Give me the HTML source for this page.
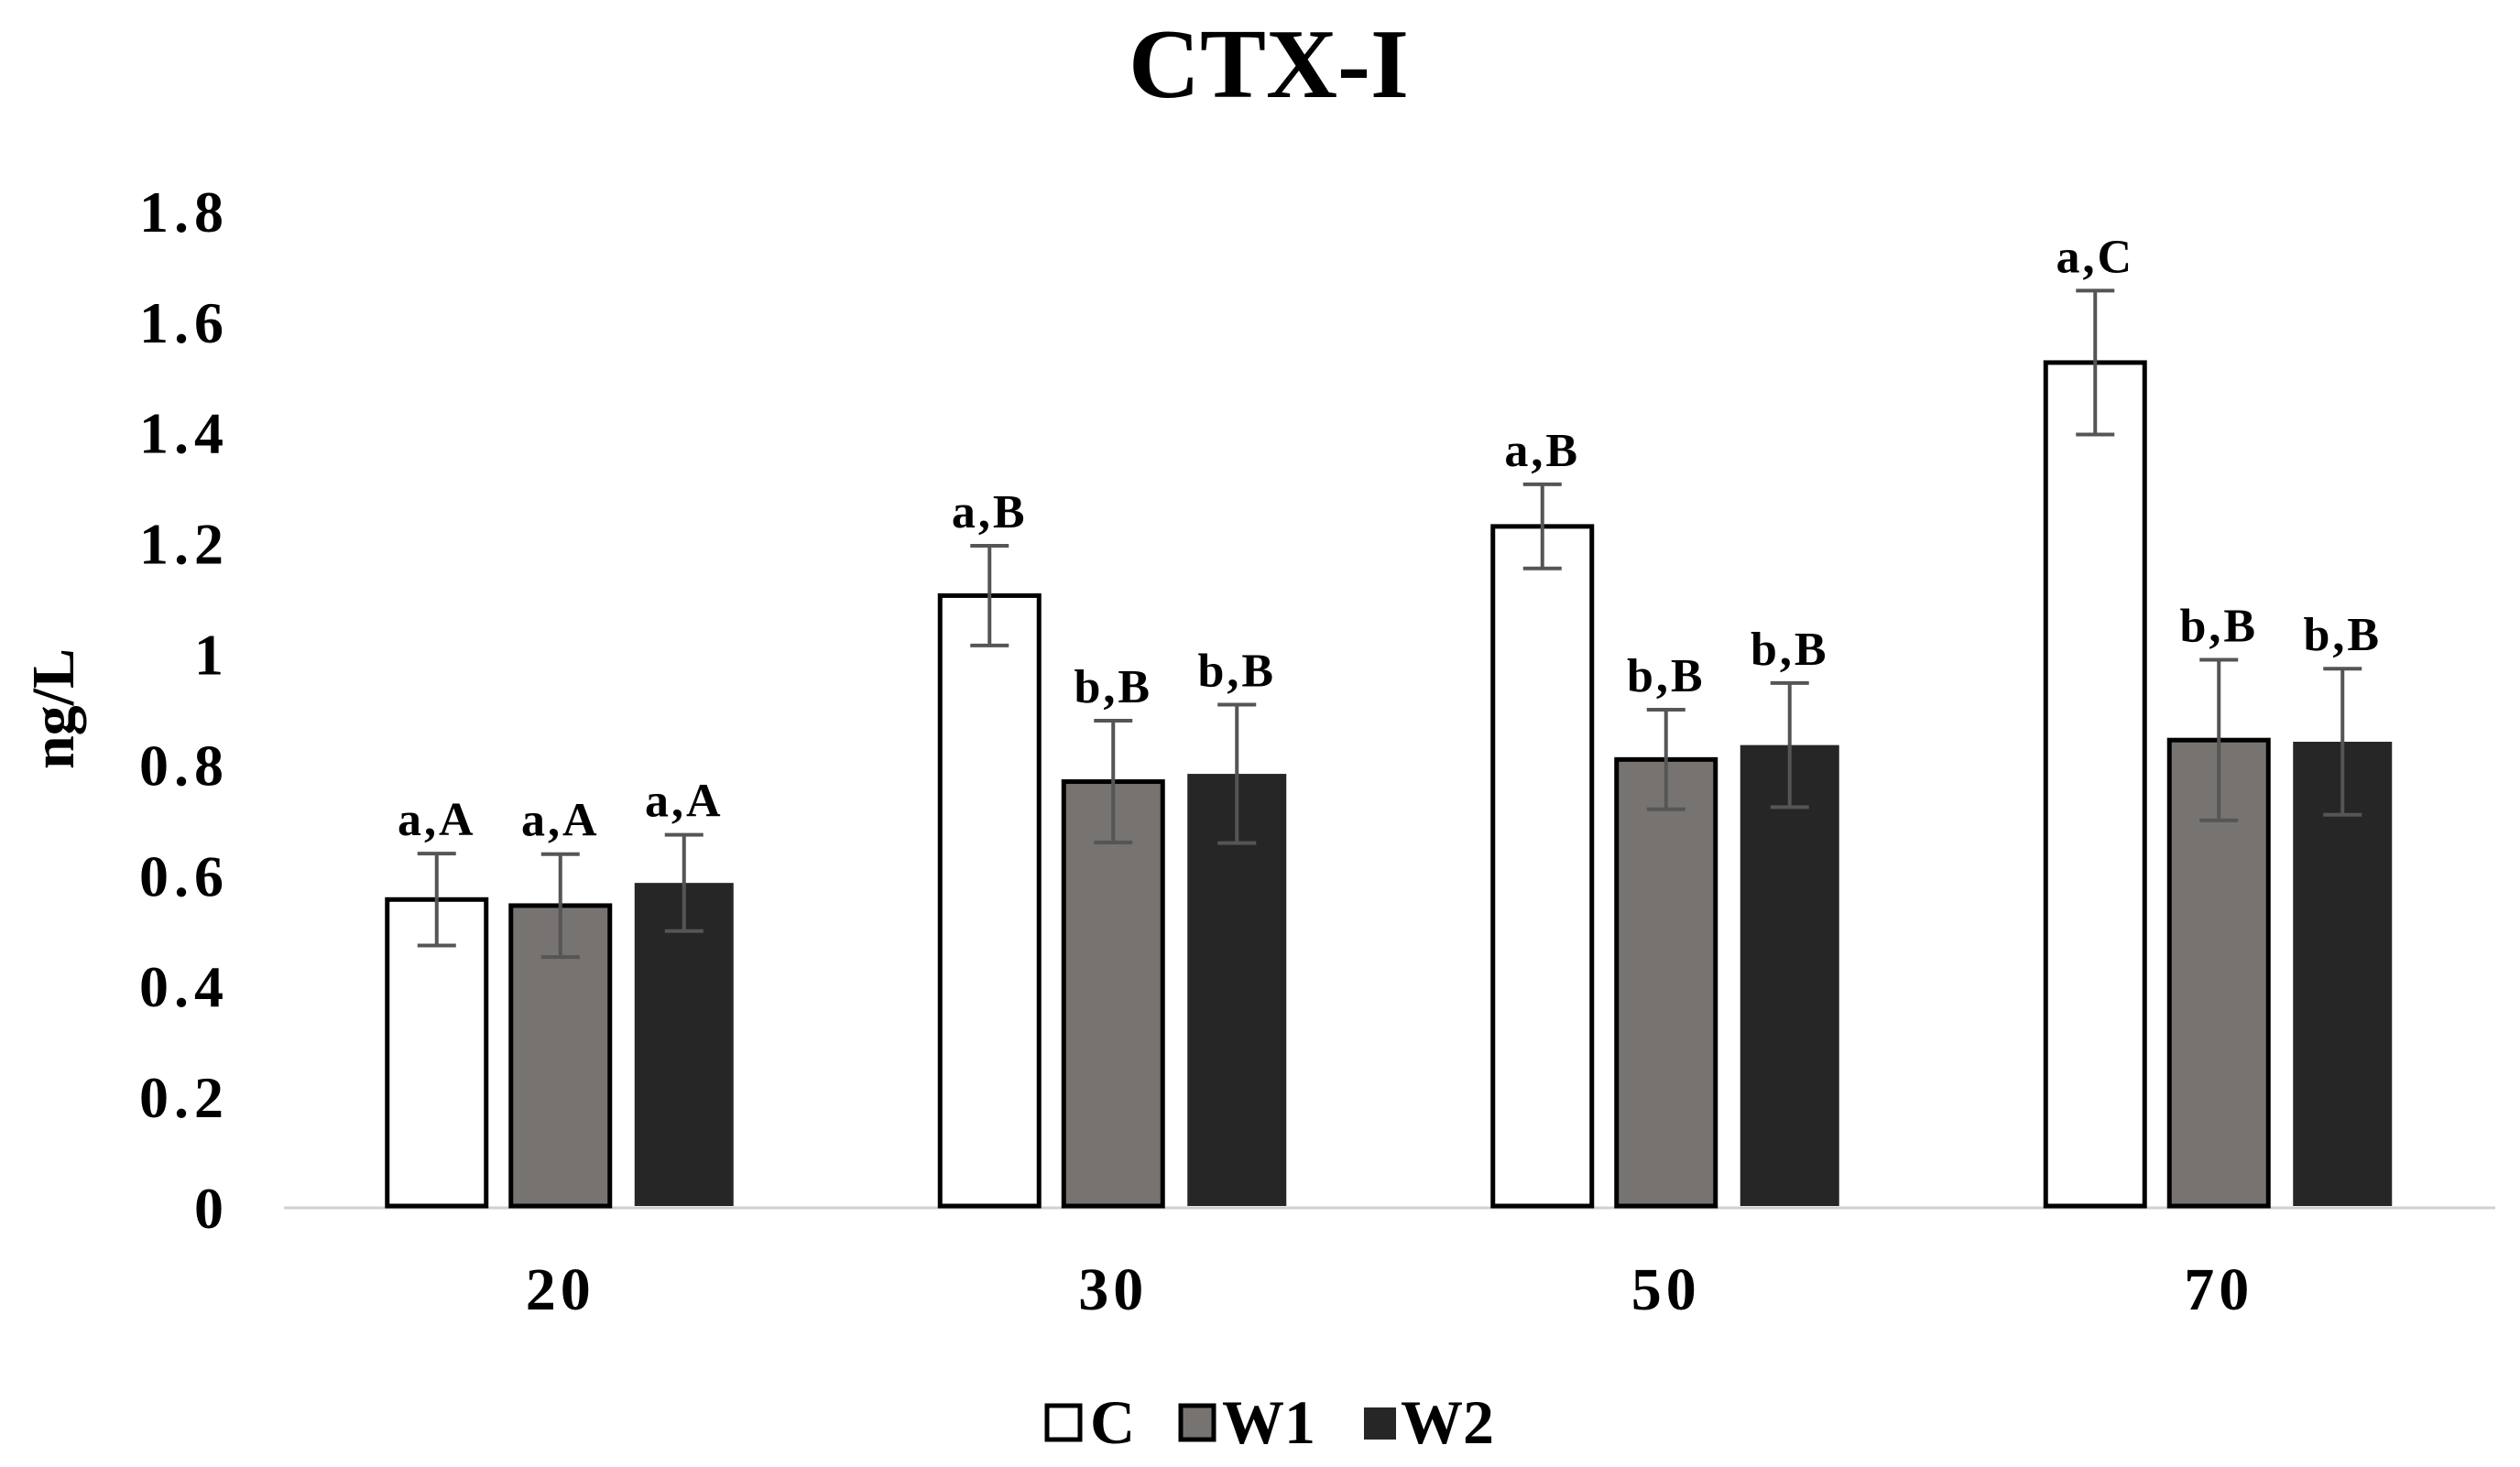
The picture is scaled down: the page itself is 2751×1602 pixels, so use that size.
<!DOCTYPE html>
<html><head><meta charset="utf-8"><style>
html,body{margin:0;padding:0;background:#fff;}
svg{display:block;}
text{font-family:"Liberation Serif",serif;font-weight:bold;fill:#000;}
</style></head><body>
<svg id="chart" width="2751" height="1602" viewBox="0 0 2751 1602">
<text x="1385" y="106" font-size="108" text-anchor="middle">CTX-I</text>
<text transform="translate(80,774) rotate(-90)" font-size="66" text-anchor="middle">ng/L</text>
<g id="yticks"></g>
<line x1="310" y1="1319" x2="2724" y2="1319" stroke="#d0d0d0" stroke-width="3"/>
<g id="bars"></g>
<g id="xticks"></g>
<g>
<g>
<rect x="1143" y="1535" width="36" height="37" fill="#fff" stroke="#000" stroke-width="5"/>
<text x="1190" y="1576" font-size="68">C</text></g>
<g>
<rect x="1289" y="1535" width="36" height="37" fill="#767371" stroke="#000" stroke-width="5"/>
<text x="1334" y="1576" font-size="68">W1</text></g>
<g>
<rect x="1489" y="1537" width="35" height="35" fill="#262626"/>
<text x="1529" y="1576" font-size="68">W2</text></g>
</g>
</svg>
<script>
const categories = ["20","30","50","70"];
const seriesNames = ["C","W1","W2"];
const valuesC = [0.557, 1.106, 1.231, 1.527];
const valuesW1 = [0.546, 0.770, 0.810, 0.845];
const valuesW2 = [0.587, 0.784, 0.836, 0.842];
const errC = [0.083, 0.090, 0.076, 0.130];
const errW1 = [0.093, 0.110, 0.090, 0.145];
const errW2 = [0.087, 0.125, 0.112, 0.132];
const labelsC = ["a,A","a,B","a,B","a,C"];
const labelsW1 = ["a,A","b,B","b,B","b,B"];
const labelsW2 = ["a,A","b,B","b,B","b,B"];
const yTicks = [0,0.2,0.4,0.6,0.8,1,1.2,1.4,1.6,1.8];
const yTickLabels = ["0","0.2","0.4","0.6","0.8","1","1.2","1.4","1.6","1.8"];

const NS="http://www.w3.org/2000/svg";
const x0=310, x1=2724, y0=1319, pxPerUnit=604.5;
const band=(x1-x0)/categories.length;
function yScale(v){return y0 - v*pxPerUnit;}
function xCenter(i){return x0 + band*(i+0.5);}
function mk(tag,attrs,parent){const e=document.createElementNS(NS,tag);for(const k in attrs)e.setAttribute(k,attrs[k]);parent.appendChild(e);return e;}

const yg=document.getElementById('yticks');
yTicks.forEach((v,i)=>{
  const t=mk('text',{x:250,y:yScale(v)+22,'font-size':64,'text-anchor':'end','letter-spacing':6},yg);
  t.textContent=yTickLabels[i];
  
  
});
const xg=document.getElementById('xticks');
categories.forEach((c,i)=>{
  const t=mk('text',{x:xCenter(i),y:1430,'font-size':66,'text-anchor':'middle','letter-spacing':5},xg);
  t.textContent=c;
  
  
});
const series=[
 {vals:valuesC,errs:errC,labs:labelsC,fill:'#fff',stroke:true},
 {vals:valuesW1,errs:errW1,labs:labelsW1,fill:'#767371',stroke:true},
 {vals:valuesW2,errs:errW2,labs:labelsW2,fill:'#262626',stroke:false}
];
const bw=108, step=135;
const bg=document.getElementById('bars');
categories.forEach((c,i)=>{
  series.forEach((s,j)=>{
    const cx=xCenter(i)+(j-1)*step;
    const v=s.vals[i], top=yScale(v);
    const r=mk('rect',{x:cx-bw/2,y:top,width:bw,height:y0-top-2,fill:s.fill,stroke:s.stroke?'#000':'none','stroke-width':5},bg);
    
    
    const e=s.errs[i], yt=yScale(v+e), yb=yScale(v-e);
    const eb=mk('path',{d:`M${cx},${yt}V${yb}M${cx-21},${yt}H${cx+21}M${cx-21},${yb}H${cx+21}`,stroke:'#555','stroke-width':4,fill:'none'},bg);
    
    
    const t=mk('text',{x:cx,y:yt-20,'font-size':52,'text-anchor':'middle','letter-spacing':3},bg);
    t.textContent=s.labs[i];
    
    
  });
});
</script>
</body></html>
